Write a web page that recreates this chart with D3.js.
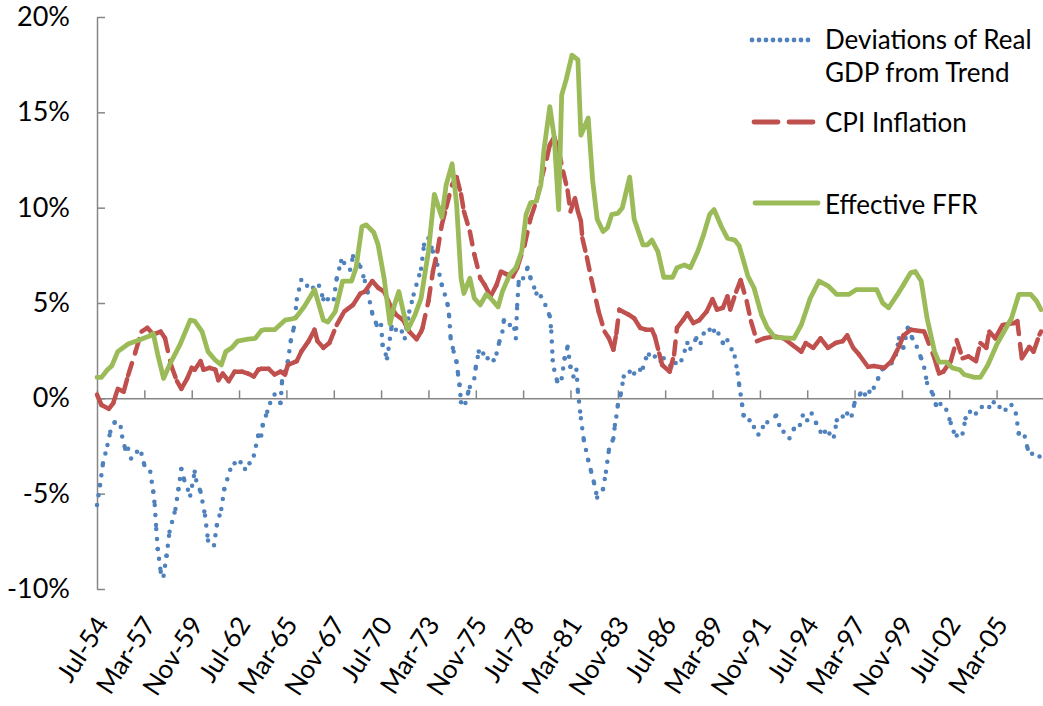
<!DOCTYPE html>
<html><head><meta charset="utf-8">
<script src="https://cdn.jsdelivr.net/npm/d3@7"></script>
<style>
body{margin:0;background:#fff}
svg{display:block}
text{font-family:Lato,'Open Sans',sans-serif;fill:#000}
</style>
</head><body>
<svg id="chart" width="1043" height="706"></svg>
<script>
// ---------- DATA ----------
const gdpData = [["1954-07",-5.6],["1954-09",-4.55],["1954-11",-3.4],["1955-02",-2.45],["1955-04",-1.75],["1955-07",-1.25],["1955-11",-1.5],["1955-12",-2.0],["1956-02",-2.65],["1956-04",-2.65],["1956-06",-3.15],["1956-10",-2.8],["1957-01",-2.9],["1957-03",-3.5],["1957-07",-3.85],["1957-09",-4.9],["1957-10",-5.6],["1957-11",-6.85],["1957-12",-7.9],["1958-02",-9.1],["1958-04",-9.3],["1958-06",-8.25],["1958-08",-7.0],["1958-12",-5.8],["1959-02",-4.75],["1959-04",-3.7],["1959-06",-4.3],["1959-10",-5.1],["1960-01",-3.85],["1960-02",-4.3],["1960-05",-4.9],["1960-08",-6.15],["1960-10",-7.45],["1961-02",-7.7],["1961-04",-6.65],["1961-07",-5.8],["1961-09",-4.75],["1962-01",-3.75],["1962-04",-3.4],["1962-08",-3.35],["1962-11",-3.7],["1963-02",-3.4],["1963-05",-3.0],["1963-08",-1.95],["1963-10",-1.95],["1963-11",-1.4],["1964-02",-0.7],["1964-04",-0.25],["1964-07",0.2],["1964-11",-0.25],["1964-12",0.9],["1965-04",1.95],["1965-06",3.05],["1965-08",3.7],["1965-10",5.2],["1966-01",6.2],["1966-05",5.9],["1966-09",5.8],["1967-01",5.9],["1967-04",5.2],["1967-07",5.2],["1967-11",5.2],["1968-01",6.3],["1968-04",7.2],["1968-06",7.1],["1968-10",6.75],["1968-12",7.45],["1969-05",6.9],["1969-08",6.15],["1969-10",5.55],["1970-01",4.45],["1970-04",3.85],["1970-07",3.85],["1970-08",2.8],["1970-11",2.1],["1970-12",2.6],["1971-02",3.75],["1971-05",3.6],["1971-09",3.5],["1971-11",3.15],["1972-02",4.55],["1972-05",5.45],["1972-10",6.8],["1972-12",8.05],["1973-03",8.4],["1973-06",7.7],["1973-09",7.0],["1973-12",5.95],["1974-02",5.45],["1974-04",4.9],["1974-05",4.3],["1974-06",3.15],["1974-08",2.45],["1974-10",1.9],["1974-11",1.25],["1974-12",0.7],["1975-01",-0.2],["1975-04",-0.25],["1975-06",0.35],["1975-07",0.6],["1975-10",1.05],["1975-11",1.65],["1976-01",2.45],["1976-04",2.35],["1976-07",2.1],["1976-11",2.0],["1977-01",2.35],["1977-03",3.0],["1977-05",3.5],["1977-06",4.1],["1977-10",3.85],["1978-01",3.65],["1978-02",3.15],["1978-03",4.9],["1978-04",6.1],["1978-07",6.3],["1978-10",6.85],["1978-12",6.3],["1979-04",5.5],["1979-07",5.35],["1979-10",4.9],["1980-01",4.3],["1980-02",3.5],["1980-03",2.0],["1980-04",1.5],["1980-06",0.9],["1980-09",1.05],["1980-11",2.1],["1981-01",2.7],["1981-03",1.65],["1981-05",1.15],["1981-07",1.5],["1981-08",0.35],["1981-10",-1.05],["1981-12",-2.2],["1982-03",-3.25],["1982-05",-3.85],["1982-07",-4.45],["1982-09",-5.2],["1983-01",-4.75],["1983-03",-3.85],["1983-05",-2.7],["1983-08",-2.1],["1983-09",-1.4],["1983-10",-0.95],["1983-11",-0.35],["1984-01",0.25],["1984-03",1.15],["1984-07",1.4],["1984-10",1.3],["1985-02",1.5],["1985-04",1.6],["1985-06",2.1],["1985-08",2.3],["1985-12",2.2],["1986-04",1.95],["1986-06",2.1],["1986-11",1.65],["1987-02",1.85],["1987-06",2.0],["1987-10",2.9],["1987-12",2.6],["1988-04",3.15],["1988-07",2.9],["1988-09",3.4],["1989-01",3.6],["1989-04",3.55],["1989-07",3.4],["1989-10",2.9],["1990-01",3.05],["1990-06",2.2],["1990-08",1.3],["1990-09",0.7],["1990-10",0.2],["1990-11",-0.35],["1990-12",-0.9],["1991-04",-1.15],["1991-07",-1.5],["1991-10",-1.9],["1992-01",-1.5],["1992-04",-1.25],["1992-10",-0.9],["1992-12",-1.4],["1993-03",-1.75],["1993-07",-2.1],["1993-10",-1.6],["1994-02",-1.4],["1994-04",-0.9],["1994-07",-1.15],["1994-10",-0.8],["1995-01",-1.3],["1995-04",-1.75],["1995-07",-1.75],["1995-10",-1.85],["1996-01",-2.0],["1996-03",-1.15],["1996-07",-0.95],["1996-10",-0.8],["1997-01",-0.9],["1997-03",-0.25],["1997-07",0.25],["1997-10",0.2],["1998-01",0.35],["1998-04",0.55],["1998-07",1.05],["1998-10",1.55],["1999-04",1.85],["1999-07",2.3],["1999-09",3.15],["1999-12",2.65],["2000-03",3.7],["2000-06",3.15],["2000-09",2.7],["2000-12",2.1],["2001-02",1.6],["2001-04",0.8],["2001-08",0.2],["2001-10",-0.35],["2002-01",-0.3],["2002-05",-0.6],["2002-08",-1.3],["2002-10",-1.75],["2002-12",-1.95],["2003-04",-1.85],["2003-06",-1.05],["2003-09",-0.7],["2004-01",-0.8],["2004-05",-0.45],["2004-10",-0.45],["2005-01",-0.2],["2005-05",-0.45],["2005-09",-0.6],["2006-01",-0.35],["2006-04",-0.8],["2006-06",-1.85],["2006-10",-2.0],["2006-12",-2.65],["2007-03",-2.9],["2007-08",-3.05]];

const cpiData = [["1954-07",0.2],["1954-10",-0.35],["1955-03",-0.55],["1955-06",-0.25],["1955-09",0.5],["1956-01",0.35],["1956-04",1.2],["1956-09",2.45],["1957-01",3.5],["1957-05",3.7],["1957-09",3.35],["1958-02",3.5],["1958-05",3.15],["1958-09",1.75],["1959-01",0.9],["1959-04",0.5],["1959-08",1.05],["1959-11",1.6],["1960-01",1.5],["1960-05",1.95],["1960-07",1.5],["1960-11",1.6],["1961-03",1.5],["1961-05",0.95],["1961-08",1.3],["1961-12",0.9],["1962-04",1.4],["1962-09",1.4],["1963-01",1.3],["1963-05",1.15],["1963-08",1.5],["1963-10",1.55],["1964-03",1.55],["1964-07",1.25],["1964-11",1.4],["1965-02",1.25],["1965-04",1.75],["1965-10",1.95],["1966-01",2.45],["1966-06",3.0],["1966-10",3.6],["1966-12",3.0],["1967-04",2.65],["1967-08",2.9],["1968-01",3.85],["1968-06",4.55],["1968-12",4.9],["1969-05",5.5],["1969-08",5.6],["1970-01",6.15],["1970-05",5.8],["1970-09",5.6],["1971-01",4.9],["1971-05",4.4],["1971-10",4.1],["1972-02",3.5],["1972-07",3.1],["1972-10",3.5],["1972-11",3.7],["1973-03",5.1],["1973-06",6.65],["1973-09",7.7],["1973-12",9.1],["1974-03",10.0],["1974-07",11.2],["1974-10",11.6],["1975-01",10.7],["1975-03",9.8],["1975-07",8.75],["1975-10",7.55],["1976-02",6.3],["1976-05",5.95],["1976-09",5.35],["1977-01",5.95],["1977-04",6.65],["1977-08",6.5],["1977-12",6.4],["1978-03",6.85],["1978-08",8.05],["1978-12",9.45],["1979-04",10.35],["1979-07",11.4],["1979-11",12.6],["1980-01",13.3],["1980-04",13.7],["1980-07",13.0],["1980-10",11.9],["1981-01",10.9],["1981-03",9.8],["1981-06",10.5],["1981-08",9.8],["1981-10",9.3],["1981-11",8.4],["1982-02",7.4],["1982-05",6.3],["1982-10",4.55],["1983-02",3.5],["1983-05",3.15],["1983-08",2.55],["1983-10",3.4],["1983-12",4.65],["1984-06",4.4],["1984-10",4.2],["1985-02",3.7],["1985-06",3.6],["1985-10",3.6],["1985-12",3.25],["1986-03",2.35],["1986-05",1.75],["1986-10",1.4],["1987-01",2.3],["1987-03",3.7],["1987-07",4.1],["1987-10",4.45],["1988-02",3.95],["1988-06",4.1],["1988-11",4.55],["1989-03",5.2],["1989-06",4.65],["1989-10",4.75],["1990-01",5.35],["1990-03",4.65],["1990-07",5.6],["1990-10",6.2],["1991-02",5.1],["1991-05",4.05],["1991-09",3.0],["1992-02",3.15],["1992-09",3.25],["1993-03",3.15],["1993-09",2.8],["1994-03",2.45],["1994-06",2.9],["1994-11",2.65],["1995-04",3.15],["1995-09",2.65],["1996-02",2.9],["1996-07",3.0],["1996-10",3.3],["1997-02",2.65],["1997-06",2.3],["1997-12",1.65],["1998-04",1.7],["1998-11",1.6],["1999-04",1.95],["1999-09",2.7],["1999-12",3.3],["2000-05",3.6],["2001-02",3.5],["2001-09",2.1],["2001-12",1.3],["2002-03",1.4],["2002-08",1.95],["2002-12",3.05],["2003-04",2.1],["2003-08",2.2],["2004-01",1.95],["2004-04",2.9],["2004-08",2.65],["2004-10",3.5],["2005-02",3.15],["2005-07",3.85],["2006-03",3.95],["2006-05",4.05],["2006-08",2.1],["2007-01",2.7],["2007-04",2.45],["2007-08",3.35],["2007-09",3.5]];

const ffrData = [["1954-07",1.1],["1954-10",1.1],["1955-02",1.5],["1955-05",1.7],["1955-09",2.45],["1956-04",2.85],["1956-11",3.05],["1957-06",3.25],["1957-09",3.4],["1957-12",2.3],["1958-04",1.05],["1958-08",1.75],["1959-03",2.8],["1959-10",4.1],["1960-01",4.05],["1960-06",3.5],["1960-10",2.45],["1961-03",2.0],["1961-07",1.75],["1961-10",2.45],["1962-02",2.65],["1962-06",3.0],["1963-01",3.1],["1963-06",3.15],["1963-10",3.55],["1963-12",3.6],["1964-07",3.6],["1965-02",4.1],["1965-09",4.2],["1966-03",4.8],["1966-10",5.7],["1967-04",4.1],["1967-07",4.0],["1967-12",4.55],["1968-05",6.15],["1968-11",6.15],["1969-02",6.85],["1969-06",9.0],["1969-09",9.1],["1970-02",8.7],["1970-05",8.05],["1970-09",6.3],["1971-01",3.9],["1971-04",4.9],["1971-07",5.6],["1971-10",4.55],["1972-01",3.6],["1972-06",4.4],["1972-10",5.25],["1973-03",7.7],["1973-07",10.7],["1973-12",9.5],["1974-03",11.2],["1974-07",12.3],["1974-10",10.2],["1975-01",6.3],["1975-03",5.5],["1975-07",6.3],["1975-10",5.25],["1976-02",4.9],["1976-06",5.45],["1976-09",5.25],["1977-02",4.8],["1977-05",5.6],["1977-10",6.5],["1978-02",6.85],["1978-06",7.7],["1978-09",9.65],["1978-12",10.25],["1979-04",10.35],["1979-07",11.2],["1979-09",13.0],["1980-01",15.3],["1980-04",13.7],["1980-07",9.9],["1980-09",15.9],["1980-12",16.7],["1981-04",18.0],["1981-08",17.75],["1981-10",13.8],["1982-03",14.7],["1982-06",11.4],["1982-09",9.4],["1983-01",8.75],["1983-04",8.95],["1983-07",9.65],["1983-11",9.7],["1984-02",10.0],["1984-07",11.6],["1984-10",9.4],["1985-04",8.05],["1985-07",8.05],["1985-10",8.3],["1986-02",7.7],["1986-06",6.35],["1986-12",6.35],["1987-03",6.85],["1987-08",7.0],["1987-12",6.85],["1988-05",7.7],["1988-09",8.6],["1989-01",9.65],["1989-04",9.9],["1989-09",9.0],["1990-01",8.4],["1990-06",8.3],["1990-09",8.0],["1991-03",6.4],["1991-07",5.8],["1991-12",4.4],["1992-04",3.7],["1992-09",3.2],["1993-10",3.15],["1994-03",3.85],["1994-09",5.25],["1995-03",6.15],["1995-09",5.9],["1996-03",5.45],["1996-11",5.45],["1997-04",5.7],["1998-06",5.7],["1998-10",5.0],["1999-02",4.75],["1999-08",5.45],["1999-12",5.95],["2000-05",6.6],["2000-08",6.65],["2000-12",6.15],["2001-04",4.2],["2001-09",2.45],["2001-12",1.9],["2002-05",1.9],["2002-09",1.6],["2003-02",1.5],["2003-05",1.25],["2003-12",1.1],["2004-04",1.1],["2004-09",1.75],["2005-03",2.8],["2006-01",4.2],["2006-06",5.45],["2007-02",5.45],["2007-06",5.1],["2007-09",4.65]];

const yTickValues = [-10, -5, 0, 5, 10, 15, 20];
const xTickLabels = ["Jul-54","Mar-57","Nov-59","Jul-62","Mar-65","Nov-67","Jul-70","Mar-73","Nov-75","Jul-78","Mar-81","Nov-83","Jul-86","Mar-89","Nov-91","Jul-94","Mar-97","Nov-99","Jul-02","Mar-05"];
const seriesNames = [["Deviations of Real","GDP from Trend"],["CPI Inflation"],["Effective FFR"]];
const seriesColors = ["#4F81BD","#C0504D","#9BBB59"];

// ---------- CHART ----------
const parse = d3.timeParse("%Y-%m");
const start = parse("1954-07");
const svg = d3.select("#chart");
const AXIS = "#868686";

const x = d3.scaleTime().domain([start, d3.timeMonth.offset(start, 640)]).range([97, 1044]);
const y = d3.scaleLinear().domain([-10, 20]).range([589, 17]);

const toPts = arr => arr.map(([d, v]) => ({date: parse(d), value: v}));
const gdp = toPts(gdpData), cpi = toPts(cpiData), ffr = toPts(ffrData);
const line = d3.line().x(d => x(d.date)).y(d => y(d.value));

// Y axis
const yAxisG = svg.append("g").attr("transform", "translate(97,0)")
  .call(d3.axisLeft(y).tickValues(yTickValues).tickFormat(d => d + "%")
        .tickSizeInner(-8).tickSizeOuter(0).tickPadding(27));
yAxisG.select(".domain").attr("stroke", AXIS).attr("stroke-width", 1.5);
yAxisG.selectAll(".tick line").attr("stroke", AXIS).attr("stroke-width", 1.5);
yAxisG.selectAll(".tick text").attr("font-size", 27).attr("font-family", "Lato, 'Open Sans', sans-serif").attr("fill", "#000");

// X axis (at 0%)
const xTickDates = xTickLabels.map((_, i) => d3.timeMonth.offset(start, 32 * i));
const xAxisG = svg.append("g").attr("transform", `translate(0,${y(0)})`)
  .call(d3.axisBottom(x).tickValues(xTickDates.concat([d3.timeMonth.offset(start, 640)]))
        .tickSizeInner(-8).tickSizeOuter(0).tickFormat(""));
xAxisG.select(".domain").attr("stroke", AXIS).attr("stroke-width", 1.5);
xAxisG.selectAll(".tick line").attr("stroke", AXIS).attr("stroke-width", 1.5);

svg.append("g").selectAll("text").data(xTickDates).join("text")
  .attr("transform", d => `translate(${x(d) + 4},619) rotate(-57)`)
  .attr("text-anchor", "end").attr("dominant-baseline", "central")
  .attr("font-size", 26)
  .text((d, i) => xTickLabels[i]);

// GDP deviations: round dots (dash pattern restarts at each data point)
svg.append("g").selectAll("path").data(d3.pairs(gdp)).join("path")
  .attr("d", p => line(p)).attr("fill", "none")
  .attr("stroke", seriesColors[0]).attr("stroke-width", 4.5)
  .attr("stroke-linecap", "round").attr("stroke-dasharray", "0,10");
svg.append("path").attr("d", line([gdp[gdp.length - 1], gdp[gdp.length - 1]]))
  .attr("stroke", seriesColors[0]).attr("stroke-width", 4.5).attr("stroke-linecap", "round");

// CPI inflation: long dash (pattern restarts at each data point)
svg.append("g").selectAll("path").data(d3.pairs(cpi)).join("path")
  .attr("d", p => line(p)).attr("fill", "none")
  .attr("stroke", seriesColors[1]).attr("stroke-width", 4.5)
  .attr("stroke-linecap", "round").attr("stroke-dasharray", "13,10");

// Effective FFR: solid
svg.append("path").datum(ffr).attr("d", line).attr("fill", "none")
  .attr("stroke", seriesColors[2]).attr("stroke-width", 4.8)
  .attr("stroke-linejoin", "round").attr("stroke-linecap", "round");

// Legend
const legend = svg.append("g");
const legendRows = [
  {y: 40, dash: "0,7", x1: 752, x2: 815, baselines: [48.5, 81.7]},
  {y: 122, dash: "24,11", x1: 754, x2: 813, baselines: [131.7]},
  {y: 203, dash: null, x1: 755, x2: 818, baselines: [214]}
];
legendRows.forEach((r, i) => {
  const ln = legend.append("line").attr("x1", r.x1).attr("x2", r.x2).attr("y1", r.y).attr("y2", r.y)
    .attr("stroke", seriesColors[i]).attr("stroke-width", 4.8).attr("stroke-linecap", "round");
  if (r.dash) ln.attr("stroke-dasharray", r.dash);
  seriesNames[i].forEach((t, j) => {
    legend.append("text").attr("x", 825).attr("y", r.baselines[j]).attr("font-size", 26).text(t);
  });
});
</script>
</body></html>
